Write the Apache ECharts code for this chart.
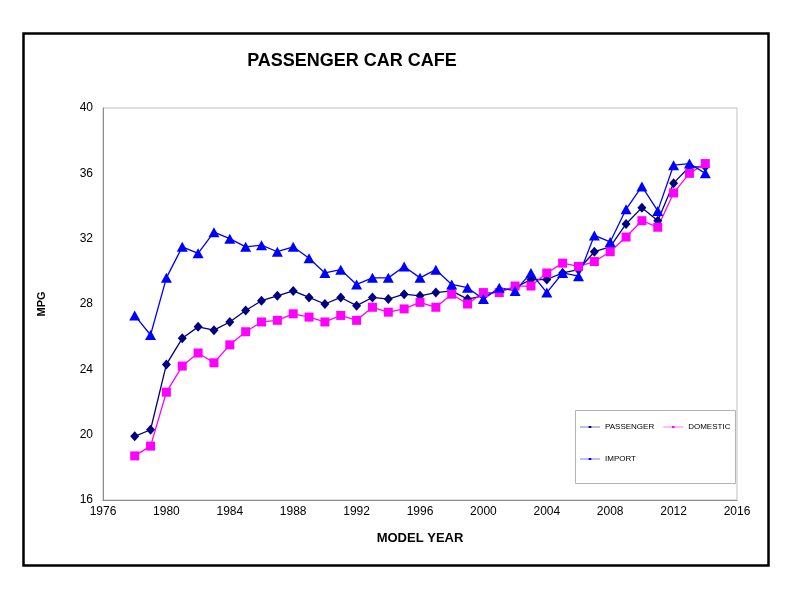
<!DOCTYPE html>
<html>
<head>
<meta charset="utf-8">
<script src="https://cdn.jsdelivr.net/npm/echarts@6/dist/echarts.min.js"></script>
<style>
html,body{margin:0;padding:0;background:#fff;}
#chart{width:800px;height:610px;}
</style>
</head>
<body>
<div id="chart"></div>
<script>
const years = [1978,1979,1980,1981,1982,1983,1984,1985,1986,1987,1988,1989,1990,1991,1992,1993,1994,1995,1996,1997,1998,1999,2000,2001,2002,2003,2004,2005,2006,2007,2008,2009,2010,2011,2012,2013,2014];
const passenger = [19.9,20.3,24.3,25.9,26.6,26.4,26.9,27.6,28.2,28.5,28.8,28.4,28.0,28.4,27.9,28.4,28.3,28.6,28.5,28.7,28.8,28.3,28.5,28.8,29.0,29.5,29.5,29.9,30.1,31.2,31.5,32.9,33.9,33.1,35.4,36.4,36.4];
const domestic = [18.7,19.3,22.6,24.2,25.0,24.4,25.5,26.3,26.9,27.0,27.4,27.2,26.9,27.3,27.0,27.8,27.5,27.7,28.1,27.8,28.6,28.0,28.7,28.7,29.1,29.1,29.9,30.5,30.3,30.6,31.2,32.1,33.1,32.7,34.8,36.0,36.6];
const imported = [27.3,26.1,29.6,31.5,31.1,32.4,32.0,31.5,31.6,31.2,31.5,30.8,29.9,30.1,29.2,29.6,29.6,30.3,29.6,30.1,29.2,29.0,28.3,29.0,28.8,29.9,28.7,29.9,29.7,32.2,31.8,33.8,35.2,33.7,36.5,36.6,36.0];
const seriesNames = ['PASSENGER','DOMESTIC','IMPORT'];

const pairs = arr => years.map((y,i)=>[y,arr[i]]);
const FONT = "'Liberation Sans', Arial, sans-serif";
const legendIcon = 'path://M0,1L30,1L30,2L0,2Z M13,0L17,0L17,3L13,3Z';

const chart = echarts.init(document.getElementById('chart'), null, {renderer:'canvas'});
chart.setOption({
  animation:false,
  backgroundColor:'#ffffff',
  title:{
    text:'PASSENGER CAR CAFE',
    left:347, top:47, textAlign:'center',
    textStyle:{fontFamily:FONT,fontSize:18,fontWeight:'bold',color:'#000'}
  },
  grid:{left:103,top:108,right:63,bottom:110,show:true,borderColor:'#c0c0c0',borderWidth:1,backgroundColor:'transparent'},
  xAxis:{
    type:'value',min:1976,max:2016,interval:4,
    name:'MODEL YEAR',nameLocation:'middle',nameGap:32,
    nameTextStyle:{fontFamily:FONT,fontSize:13,fontWeight:'bold',color:'#000'},
    axisLine:{lineStyle:{color:'#8c8c8c',width:1}},
    axisTick:{show:false},
    splitLine:{show:false},
    axisLabel:{fontFamily:FONT,fontSize:12,color:'#000',margin:6,formatter:v=>String(v)}
  },
  yAxis:{
    type:'value',min:16,max:40,interval:4,
    name:'MPG',nameLocation:'middle',nameGap:56,
    nameTextStyle:{fontFamily:FONT,fontSize:11,fontWeight:'bold',color:'#000'},
    axisLine:{show:true,lineStyle:{color:'#8c8c8c',width:1}},
    axisTick:{show:false},
    splitLine:{show:false},
    axisLabel:{fontFamily:FONT,fontSize:12,color:'#000',margin:10}
  },
  legend:[
    {data:[seriesNames[0],seriesNames[1]],left:580,top:423,orient:'horizontal',itemGap:9,itemWidth:20,itemHeight:3,
     icon:legendIcon,textStyle:{fontFamily:FONT,fontSize:8,color:'#000'},padding:0},
    {data:[seriesNames[2]],left:580,top:455,orient:'horizontal',itemWidth:20,itemHeight:3,
     icon:legendIcon,textStyle:{fontFamily:FONT,fontSize:8,color:'#000'},padding:0}
  ],
  graphic:[
    {type:'rect',left:575,top:410,shape:{width:160,height:73},style:{fill:'#fff',stroke:'#b4b4b4',lineWidth:1},z:-1},
    {type:'rect',left:21,top:31,shape:{width:745,height:532},style:{fill:'none',stroke:'#000',lineWidth:2.5},z:10}
  ],
  series:[
    {name:seriesNames[0],type:'line',data:pairs(passenger),symbol:'diamond',symbolSize:[9,10],
     lineStyle:{color:'#000080',width:1.3},itemStyle:{color:'#000080'}},
    {name:seriesNames[1],type:'line',data:pairs(domestic),symbol:'rect',symbolSize:9,
     lineStyle:{color:'#ff00ff',width:1.3},itemStyle:{color:'#ff00ff'}},
    {name:seriesNames[2],type:'line',data:pairs(imported),symbol:'triangle',symbolSize:[11,10],
     lineStyle:{color:'#0000ff',width:1.3},itemStyle:{color:'#0000ff'}}
  ]
});
</script>
</body>
</html>
